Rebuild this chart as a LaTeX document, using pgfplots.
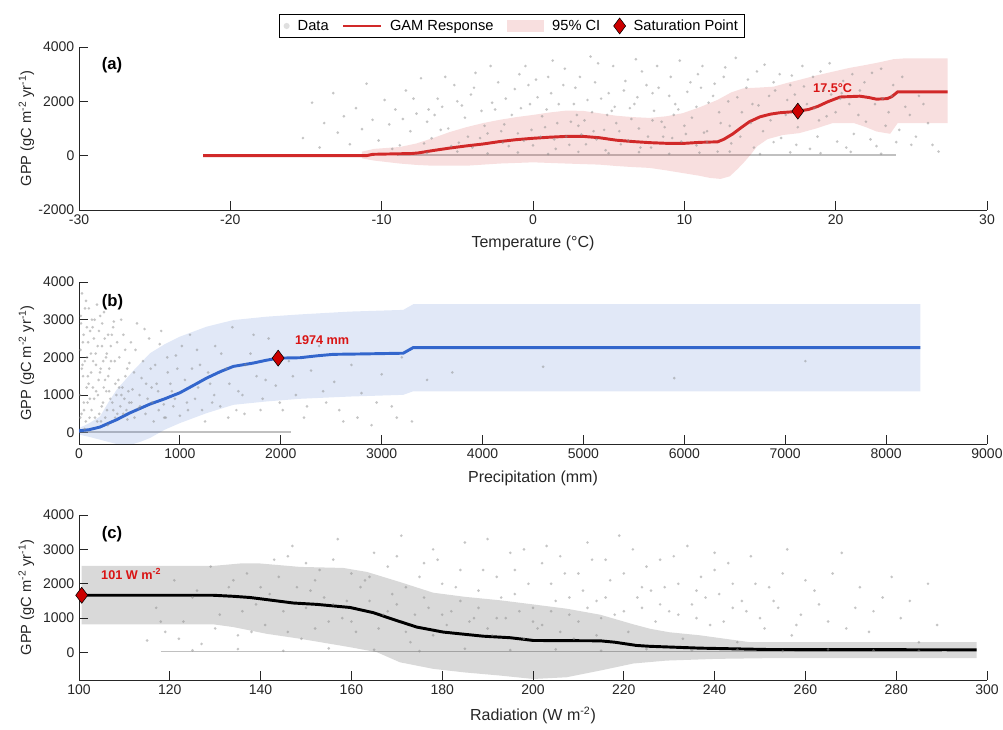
\documentclass[border=0pt]{standalone}
\usepackage{fontspec}
\setmainfont{Liberation Sans}
\usepackage{pgfplots}
\pgfplotsset{compat=1.18}

\definecolor{axc}{rgb}{0.15,0.15,0.15}
\definecolor{gamred}{rgb}{0.82,0.16,0.16}
\definecolor{gamblue}{rgb}{0.2,0.4,0.8}
\definecolor{satred}{rgb}{0.8,0,0}
\definecolor{anred}{rgb}{0.85,0.08,0.08}
\definecolor{ptgray}{rgb}{0.55,0.55,0.55}

\pgfplotsset{
 myax/.style={
  scale only axis, width=681pt,
  axis x line*=bottom, axis y line*=left,
  axis line style={axc, line width=0.6pt},
  tick style={axc, line width=0.6pt},
  major tick length=6.5pt,
  tick align=inside,
  ticklabel style={font=\fontsize{10.5}{12}\selectfont, text=axc},
  xlabel style={font=\fontsize{12}{14}\selectfont, text=axc},
  ylabel style={font=\fontsize{11}{13}\selectfont, text=axc},
  /pgf/number format/assume math mode=true,
  /pgf/number format/1000 sep={},
  scaled ticks=false,
  ylabel={GPP (gC m\textsuperscript{-2} yr\textsuperscript{-1})},
  ylabel style={at={(axis description cs:-0.058,0.5)}, anchor=center},
 },
 scat/.style={only marks, mark=*, mark size=1.1pt, color=ptgray, mark options={fill=ptgray, fill opacity=0.5, draw opacity=0}, forget plot},
 zline/.style={draw=ptgray, opacity=0.55, line width=1.4pt, forget plot},
}
\tikzset{
 plab/.style={font=\fontsize{12.5}{14}\selectfont\bfseries, text=black, anchor=north west},
 anlab/.style={font=\fontsize{9.5}{11}\selectfont\bfseries, text=anred},
}

\begin{document}
\begin{tikzpicture}
\path[use as bounding box] (0,0) rectangle (752.25pt,-546.75pt);

% ---------------- (a) ----------------
\begin{axis}[myax, height=122.25pt, at={(59.25pt,-157.5pt)}, anchor=south west,
  xmin=-30, xmax=30, ymin=-2000, ymax=4000,
  xtick={-30,-20,...,30}, ytick={-2000,0,2000,4000},
  xlabel={Temperature (°C)},
  xlabel style={at={(axis description cs:0.5,-0.2025)}, anchor=center},
  legend columns=4,
  legend style={at={(0.477,1.129)}, anchor=center, draw=black, line width=0.5pt,
    font=\fontsize{11}{13}\selectfont, inner xsep=3pt, inner ysep=2pt,
    /tikz/every odd column/.append style={column sep=4pt},
    /tikz/every even column/.append style={column sep=8pt}},
]
\addlegendimage{legend image code/.code={\path[fill=gray!25, draw=none] (14pt,0pt) circle (2.3pt);}}
\addlegendentry{Data}
\addlegendimage{legend image code/.code={\draw[gamred, line width=2pt] (0pt,0pt) -- (28pt,0pt);}}
\addlegendentry{GAM Response}
\addlegendimage{legend image code/.code={\path[fill=gamred, fill opacity=0.15, draw=none] (0pt,-4.5pt) rectangle (28pt,4.5pt);}}
\addlegendentry{95\% CI}
\addlegendimage{legend image code/.code={\draw[mark=diamond*, mark size=6pt, mark options={fill=satred, draw=black, line width=0.4pt}] plot coordinates {(14pt,0pt)};}}
\addlegendentry{Saturation Point}

\addplot[zline] coordinates {(-9,30) (24,30)};
\addplot[scat] coordinates {
(-15.2,650) (-14.6,1950) (-14.1,300) (-13.8,1200) (-13.2,2300) (-12.9,850) (-12.5,1450) (-12.1,420) (-11.7,1750) (-11.3,980) (-11.0,2650) (-10.6,1320) (-10.2,560) (-9.8,2050) (-9.5,1150) (-9.1,1700) (-8.8,380) (-8.4,2400) (-8.1,900) (-7.7,1550) (-7.4,2850) (-7.0,1250) (-6.7,640) (-6.3,2100) (-6.0,1800) (-5.6,1000) (-5.2,2600) (-4.9,480) (-4.5,1400) (-4.1,2250) (-3.8,3050) (-3.4,1650) (-3.0,820) (-2.7,1950) (-2.3,2700) (-1.9,1150) (-1.6,350) (-1.2,2450) (-0.8,1750) (-0.5,3300) (-0.1,950) (0.3,2150) (0.6,1450) (1.0,2900) (1.4,600) (1.7,1900) (2.1,3200) (2.5,1250) (2.8,2500) (3.2,780) (3.6,2050) (3.9,1600) (4.3,3400) (4.7,950) (5.0,2300) (5.4,1800) (5.8,420) (6.1,2750) (6.5,1350) (6.9,2150) (7.2,3100) (7.6,700) (8.0,1650) (8.3,2500) (8.7,1050) (9.1,2900) (9.4,1900) (9.8,520) (10.2,2350) (10.5,1400) (10.9,3000) (11.3,850) (11.6,1950) (12.0,2650) (12.4,1200) (12.7,3250) (13.1,450) (13.5,2150) (13.8,1600) (14.2,2800) (14.6,300) (14.9,1850) (15.3,3350) (15.7,1300) (16.0,2400) (16.4,650) (16.8,2050) (17.1,2950) (17.5,1050) (17.9,2550) (18.3,250) (18.6,1750) (19.0,3100) (19.4,1450) (19.7,2250) (20.1,520) (20.5,2750) (20.9,1900) (21.2,800) (21.6,2400) (22.0,1250) (22.4,3050) (22.7,350) (23.1,2100) (23.5,1600) (23.8,2600) (24.2,950) (24.6,1800) (25.0,400) (25.5,2200) (26.1,1200) (26.8,150)
(-4,300) (-3.5,650) (-2,480) (-1,820) (0,380) (0.8,1050) (1.5,250) (2.2,700) (3,1100) (3.5,420) (4,900) (4.8,200) (5.5,1200) (6.3,560) (7,1000) (7.8,300) (8.5,1250) (9.2,650) (10,1100) (10.8,380) (11.5,900) (12.2,150)
(-6.5,1500) (-5,2000) (-2.5,1700) (-0.3,2600) (1.2,2300) (2.9,1500) (4.1,2700) (5.2,1650) (6.7,1900) (7.9,2300) (9.6,1700) (11.1,2500) (12.9,2000) (14.4,1200) (15.9,2700) (17.3,2250) (18.9,1300) (20.3,2100)
(-9.3,250) (-8.6,1350) (-7.9,2100) (-7.2,450) (-6.9,1700) (-6.1,950) (-5.8,2900) (-5.4,350) (-4.7,1850) (-4.3,700) (-3.9,2500) (-3.2,1100) (-2.8,3300) (-2.1,900) (-1.8,2100) (-1.4,1500) (-0.9,3000) (-0.6,550) (-0.2,1900) (0.2,2800) (0.5,700) (0.9,1700) (1.3,3500) (1.6,1200) (2.0,2600) (2.4,400) (2.7,1900) (3.1,2900) (3.4,1300) (3.8,3650) (4.2,600) (4.5,2100) (4.9,1500) (5.3,3300) (5.7,900) (6.0,2400) (6.4,1750) (6.8,3550) (7.1,300) (7.5,2600) (7.9,1300) (8.2,3300) (8.6,700) (9.0,2200) (9.3,1500) (9.7,3500) (10.1,800) (10.4,2700) (10.8,1800) (11.2,3300) (11.5,500) (11.9,2200) (12.3,1600) (12.6,2900) (13.0,1100) (13.4,3600) (13.7,700) (14.1,2500) (14.5,1900) (14.8,3100) (15.2,900) (15.6,2200) (15.9,500) (16.3,3000) (16.7,1500) (17.0,2600) (17.4,400) (17.8,3300) (18.1,1900) (18.5,2900) (18.8,700) (19.2,2400) (19.6,3400) (20.0,1600) (20.4,2300) (20.7,300) (21.1,3000) (21.5,1500) (21.9,2700) (22.3,600) (22.6,1900) (23.0,3200) (23.3,1100) (23.7,2200) (24.0,500) (24.4,2900) (24.9,1500) (25.3,700) (25.8,1900) (26.4,400)
(-7,100) (-5,150) (-3,80) (-1,120) (1,60) (3,140) (5,90) (7,130) (9,70) (11,110) (13,150) (15,60) (17,120) (19,90) (21,140) (23,70)
};
\addplot[fill=gamred, fill opacity=0.15, draw=none, forget plot] coordinates {
(-11.3,150) (-10.5,250) (-8.8,320) (-7.7,450) (-6.6,650) (-5.5,870) (-4.4,1050) (-3.3,1200) (-2.2,1320) (-1.1,1420) (0,1500) (1.1,1590) (2.2,1660) (3.3,1650) (4.4,1560) (5.5,1470) (6.6,1420) (7.7,1390) (8.8,1450) (9.9,1565) (11,1780) (12.2,2055) (13.1,2330) (13.9,2480) (15,2510) (15.9,2540) (16.8,2680) (17.6,2790) (18.7,2950) (19.8,3090) (20.9,3230) (22,3340) (23,3450) (23.8,3550) (24.5,3580) (27.4,3585)
(27.4,1200) (24.1,1200) (23.6,805) (22.7,890) (22,1050) (21.2,1200) (19.8,1200) (18.7,1000) (17.6,830) (16.5,760) (15.5,610) (14.8,340) (14.4,50) (13.9,-270) (13.5,-500) (13,-760) (12.4,-855) (11.7,-820) (11,-740) (9.9,-640) (8.8,-540) (7.7,-450) (6.6,-420) (5.5,-380) (4.4,-330) (2.2,-290) (0,-245) (-2.2,-290) (-4.4,-370) (-6.6,-370) (-7.7,-340) (-8.8,-290) (-10.5,-180) (-11.3,-100)
};
\addplot[gamred, line width=2.2pt, forget plot] coordinates {
(-21.8,0) (-11,0) (-10.6,50) (-8,80) (-7.6,100) (-6.6,190) (-5.5,280) (-4.4,360) (-3.3,430) (-2.2,520) (-1.1,590) (0,640) (1.1,680) (2.2,710) (3.3,710) (4.4,660) (5.5,570) (6.6,520) (7.7,480) (8.8,455) (9.9,450) (11,490) (12.2,510) (12.6,600) (13.2,800) (13.7,1010) (14.3,1250) (15,1430) (15.7,1530) (16.3,1580) (17,1610) (17.5,1640) (18.2,1700) (18.8,1810) (19.5,1990) (20.3,2160) (21.6,2190) (22.2,2140) (22.7,2080) (23.4,2100) (23.7,2170) (24.1,2350) (27.4,2350)
};
\addplot[only marks, mark=diamond*, mark size=6pt, mark options={fill=satred, draw=black, line width=0.4pt}, forget plot] coordinates {(17.5,1640)};
\node[anlab] at (axis cs:19.8,2490) {17.5°C};
\node[plab] at (rel axis cs:0.02,0.965) {(a)};
\end{axis}

% ---------------- (b) ----------------
\begin{axis}[myax, height=121.5pt, at={(59.25pt,-333pt)}, anchor=south west,
  xmin=0, xmax=9000, ymin=-300, ymax=4000,
  xtick={0,1000,...,9000}, ytick={0,1000,...,4000},
  xlabel={Precipitation (mm)},
  xlabel style={at={(axis description cs:0.5,-0.21)}, anchor=center},
]
\addplot[zline] coordinates {(0,30) (2100,30)};
\addplot[scat] coordinates {
(20,2900) (35,1800) (50,600) (60,3300) (75,1200) (90,2400) (105,400) (120,1600) (135,2800) (150,900) (165,2100) (180,300) (195,1400) (210,3100) (225,700) (240,1900) (255,2500) (270,1100) (285,200) (300,1700) (315,2300) (330,800) (345,2950) (360,1300) (380,500) (400,2000) (420,1000) (440,2600) (460,1500) (480,350) (500,1850) (530,1150) (560,2200) (590,650) (620,1450) (650,2750) (680,900) (710,1700) (740,300) (770,1300) (800,2350) (840,750) (880,1600) (920,1100) (960,2050) (1000,450) (1050,1400) (1100,2600) (1150,900) (1200,1800) (1250,300) (1300,1300) (1350,2300) (1400,700) (1460,1700) (1520,2800) (1580,1100) (1640,500) (1700,2100) (1760,1500) (1820,900) (1880,2500) (1950,1250) (2020,600) (2080,1900) (2150,1000) (2230,400) (2300,1650) (2380,2300) (2450,800) (2530,1350) (2620,300) (2700,1800) (2800,1050) (2900,200) (3000,1550) (3100,700) (3200,2000) (3300,300) (3450,1400) (3700,1600) (4600,1750) (5900,1450) (7200,1900)
(10,1000) (15,2200) (25,500) (40,1500) (45,2600) (55,100) (70,3500) (85,800) (30,3700) (80,2000) (95,1300) (110,2700) (125,600) (140,1900) (155,3000) (170,1100) (185,2300) (200,500) (215,1700) (230,2900) (245,1200) (260,400) (275,2100) (290,1500) (310,900) (325,2600) (340,600) (355,1900) (370,1000) (390,1400) (410,700) (430,1200) (450,900) (470,600) (490,1100) (520,800) (550,400) (600,1000) (660,500) (720,1200) (790,600) (860,400) (950,900) (1080,600) (1180,1200) (1320,800) (1480,400) (1620,1000) (1800,600)
(12,400) (18,3100) (28,1700) (38,2400) (48,800) (58,1900) (68,300) (78,2800) (88,1500) (98,3300) (108,900) (118,2100) (128,3000) (138,1200) (148,2500) (158,400) (168,1800) (178,3400) (188,1000) (198,2700) (208,1600) (218,300) (228,2300) (238,800) (248,3200) (258,1400) (268,2000) (278,600) (288,2600) (298,1100) (318,1900) (338,2800) (358,400) (378,2400) (398,1200) (418,3000) (438,500) (458,2200) (478,1700) (498,800) (515,2400) (545,1600) (575,2900) (605,700) (635,1900) (665,1300) (695,2500) (725,800) (755,1800) (785,1100) (815,2700) (845,400) (875,2000) (905,1300) (935,700) (975,1700) (1020,2300) (1070,800) (1120,1700) (1170,2200) (1220,600) (1280,1600) (1340,1000) (1410,2100) (1490,1300) (1560,600) (1650,1800) (1730,2600) (1850,1400) (1990,800) (2120,1500) (2260,700) (2420,1100) (2580,600) (2760,400) (2950,800) (3150,400)
};
\addplot[fill=gamblue, fill opacity=0.15, draw=none, forget plot] coordinates {
(0,120) (100,250) (208,430) (290,800) (373,1140) (540,1650) (704,2110) (850,2350) (1000,2550) (1265,2815) (1530,2990) (1860,3080) (2190,3140) (2685,3215) (3214,3260) (3313,3410) (8340,3410)
(8340,1100) (3313,1100) (3214,1005) (2685,960) (2190,900) (1860,830) (1530,740) (1265,520) (1000,255) (850,80) (704,-140) (620,-230) (538,-300) (373,-300) (208,-185) (100,-110) (0,-50)
};
\addplot[gamblue, line width=2.2pt, forget plot] coordinates {
(0,50) (100,80) (208,150) (300,260) (373,345) (500,520) (704,760) (850,900) (1000,1060) (1130,1250) (1265,1450) (1400,1620) (1530,1760) (1730,1850) (1850,1920) (1974,1980) (2190,1990) (2355,2040) (2520,2080) (2785,2090) (3214,2110) (3260,2180) (3313,2260) (8340,2260)
};
\addplot[only marks, mark=diamond*, mark size=6pt, mark options={fill=satred, draw=black, line width=0.4pt}, forget plot] coordinates {(1974,1980)};
\node[anlab] at (axis cs:2410,2460) {1974 mm};
\node[plab] at (rel axis cs:0.02,0.955) {(b)};
\end{axis}

% ---------------- (c) ----------------
\begin{axis}[myax, height=123.75pt, at={(59.25pt,-510pt)}, anchor=south west,
  xmin=100, xmax=300, ymin=-800, ymax=4000,
  xtick={100,120,...,300}, ytick={0,1000,...,4000},
  xlabel={Radiation (W m\textsuperscript{-2})},
  xlabel style={at={(axis description cs:0.5,-0.215)}, anchor=center},
]
\addplot[zline] coordinates {(118,30) (290,30)};
\addplot[scat] coordinates {
(115,350) (117,1300) (119,600) (121,2100) (123,900) (125,1600) (127,250) (129,2500) (131,1100) (133,1900) (135,500) (137,2300) (139,1400) (141,800) (143,2700) (145,1200) (147,3100) (149,400) (151,1800) (153,2400) (155,900) (157,3300) (159,1500) (161,600) (163,2100) (165,2900) (167,1100) (169,1700) (171,3400) (173,300) (175,2200) (177,1300) (179,2700) (181,800) (183,1900) (185,3200) (187,1000) (189,2400) (191,500) (193,1600) (195,2900) (197,1200) (199,2000) (201,700) (203,3100) (205,1500) (207,2300) (209,400) (211,1800) (213,2700) (215,1000) (217,2100) (219,3400) (221,600) (223,1600) (225,2500) (227,900) (229,1900) (231,2800) (233,400) (235,1400) (237,2200) (239,800) (241,1700) (243,2600) (245,300) (247,1200) (249,2000) (251,700) (253,1500) (255,2300) (257,500) (259,1100) (262,1800) (265,900) (268,2900) (271,1300) (274,600) (277,1600) (281,1000) (285,300) (289,800)
(142,1700) (146,600) (150,1300) (154,1600) (158,1000) (162,1900) (166,700) (170,1400) (174,1100) (178,500) (182,1200) (186,900) (190,700) (194,1000) (198,400) (202,800) (206,600) (210,900) (214,500)
(144,2200) (148,1900) (152,2100) (156,1400) (160,2300) (164,1500) (168,2500) (172,1900) (176,1600) (180,2000) (184,1500) (188,1800) (192,2200) (196,1700) (200,1300) (204,2000) (208,1600) (212,1300) (216,1600) (220,1200) (224,1900) (228,1400) (232,1100) (236,1800) (240,2400) (244,1300)
(118,900) (122,400) (126,1800) (130,700) (134,2100) (136,1200) (138,600) (140,1900) (146,2800) (150,2600) (152,700) (156,2700) (160,900) (164,2200) (168,1200) (170,2800) (172,600) (176,2600) (178,3000) (180,1100) (184,2400) (188,1300) (190,3300) (192,1000) (196,2400) (198,3000) (200,900) (202,2600) (204,1200) (206,2800) (208,1100) (210,2300) (212,3200) (214,1500) (216,2700) (218,1100) (220,2300) (222,3000) (224,1300) (226,1800) (228,2700) (230,1200) (232,2000) (234,3100) (236,1000) (238,1600) (240,2900) (242,900) (244,2000) (246,1500) (248,2800) (250,1000) (252,1900) (254,1300) (256,3000) (258,800) (260,2100) (263,1400) (266,2300) (269,700) (272,1900) (275,1200) (279,2200) (283,1500) (287,2000)
(125,60) (135,100) (145,50) (155,120) (165,80) (175,40) (185,110) (195,70) (205,90) (215,50) (225,100) (235,60) (245,80) (255,40) (265,90) (275,60) (285,50)
};
\addplot[fill=black, fill opacity=0.15, draw=none, forget plot] coordinates {
(100.6,2520) (129.6,2520) (135.5,2590) (139.9,2590) (148.7,2490) (158.2,2460) (163.4,2345) (170.7,2050) (178,1740) (185,1620) (192.7,1520) (200,1400) (207.4,1275) (214.8,1100) (222.1,820) (225.8,690) (230,590) (236.8,500) (247.8,300) (297.7,300)
(297.7,-165) (251.5,-165) (240.4,-185) (229.4,-235) (222.1,-320) (214.8,-525) (207.4,-720) (200.1,-770) (192.7,-670) (185,-580) (178,-475) (170.7,-285) (165.6,10) (159.7,155) (148.7,400) (141.3,545) (134,740) (129.6,820) (100.6,820)
};
\addplot[black, line width=2.2pt, forget plot] coordinates {
(100.6,1665) (129.6,1665) (134,1635) (137.7,1600) (141.3,1540) (147.2,1440) (152.4,1400) (159.7,1310) (164.8,1160) (169.5,950) (174.4,740) (180.2,595) (189,475) (195,430) (200.1,350) (214.8,340) (218,300) (222.8,205) (225.8,180) (236.8,127) (251.5,88) (297.7,78)
};
\addplot[only marks, mark=diamond*, mark size=6pt, mark options={fill=satred, draw=black, line width=0.4pt}, forget plot] coordinates {(100.6,1665)};
\node[anlab] at (axis cs:111.5,2280) {101 W m\textsuperscript{-2}};
\node[plab] at (rel axis cs:0.02,0.96) {(c)};
\end{axis}
\end{tikzpicture}
\end{document}
